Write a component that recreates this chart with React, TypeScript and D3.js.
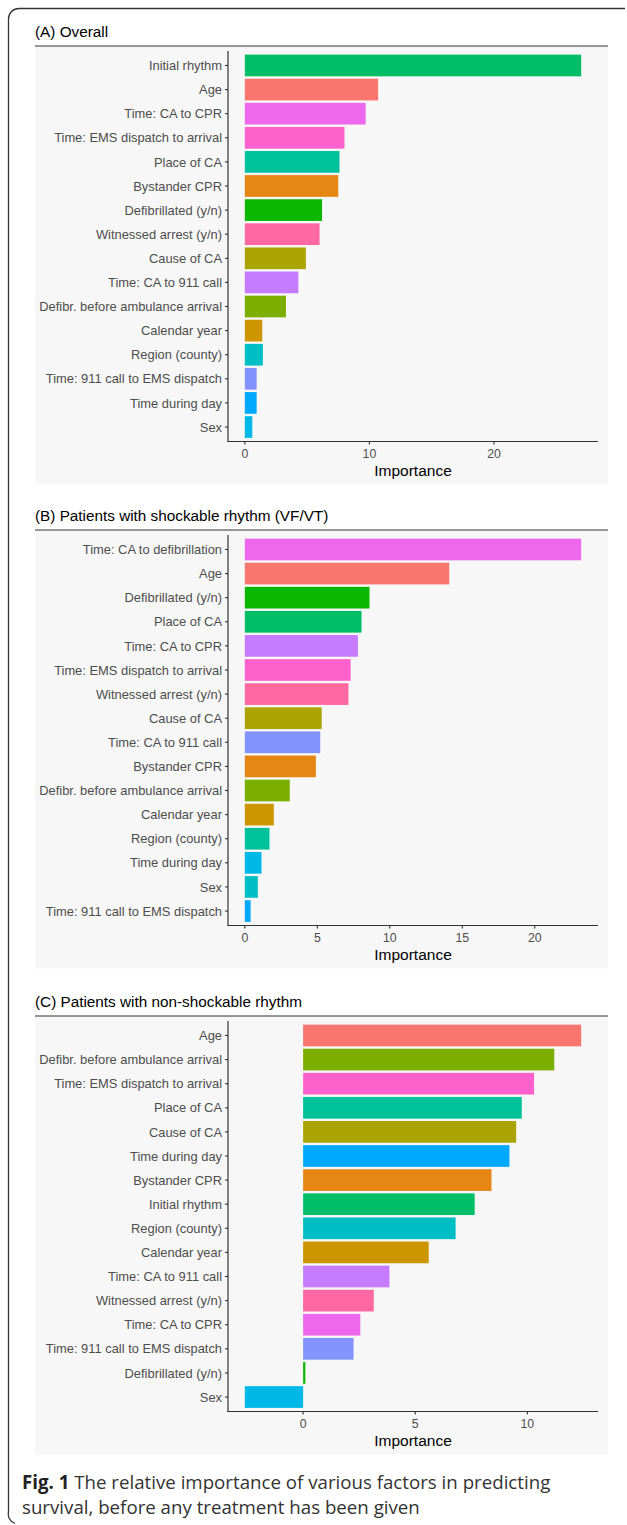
import React from "react";
import * as d3 from "d3";

// ggplot2 default hue palette for 16 levels
const PALETTE16 = [
  "#F8766D", "#E68613", "#CD9600", "#ABA300", "#7CAE00", "#0CB702", "#00BE67", "#00C19A",
  "#00BFC4", "#00B8E7", "#00A9FF", "#8494FF", "#C77CFF", "#ED68ED", "#FF61CC", "#FF68A1",
];

// Panel A: Overall
const aTitle = "(A) Overall";
const aLabels = [
  "Initial rhythm", "Age", "Time: CA to CPR", "Time: EMS dispatch to arrival", "Place of CA",
  "Bystander CPR", "Defibrillated (y/n)", "Witnessed arrest (y/n)", "Cause of CA",
  "Time: CA to 911 call", "Defibr. before ambulance arrival", "Calendar year", "Region (county)",
  "Time: 911 call to EMS dispatch", "Time during day", "Sex",
];
const aValues = [27.0, 10.7, 9.7, 8.0, 7.6, 7.5, 6.2, 6.0, 4.9, 4.3, 3.3, 1.4, 1.45, 0.95, 0.95, 0.6];
const aTicks = [0, 10, 20];

// Panel B: shockable rhythm
const bTitle = "(B) Patients with shockable rhythm (VF/VT)";
const bLabels = [
  "Time: CA to defibrillation", "Age", "Defibrillated (y/n)", "Place of CA", "Time: CA to CPR",
  "Time: EMS dispatch to arrival", "Witnessed arrest (y/n)", "Cause of CA", "Time: CA to 911 call",
  "Bystander CPR", "Defibr. before ambulance arrival", "Calendar year", "Region (county)",
  "Time during day", "Sex", "Time: 911 call to EMS dispatch",
];
const bValues = [23.2, 14.1, 8.6, 8.05, 7.8, 7.3, 7.15, 5.3, 5.2, 4.9, 3.1, 2.0, 1.7, 1.15, 0.9, 0.4];
const bTicks = [0, 5, 10, 15, 20];

// Panel C: non-shockable rhythm
const cTitle = "(C) Patients with non-shockable rhythm";
const cLabels = [
  "Age", "Defibr. before ambulance arrival", "Time: EMS dispatch to arrival", "Place of CA",
  "Cause of CA", "Time during day", "Bystander CPR", "Initial rhythm", "Region (county)",
  "Calendar year", "Time: CA to 911 call", "Witnessed arrest (y/n)", "Time: CA to CPR",
  "Time: 911 call to EMS dispatch", "Defibrillated (y/n)", "Sex",
];
const cValues = [12.4, 11.2, 10.3, 9.75, 9.5, 9.2, 8.4, 7.65, 6.8, 5.6, 3.85, 3.15, 2.55, 2.25, 0.1, -2.6];
const cTicks = [0, 5, 10];

const captionBold = "Fig. 1";
const captionLine1 = " The relative importance of various factors in predicting";
const captionLine2 = "survival, before any treatment has been given";

const FONT = "'Liberation Sans', Arial, Helvetica, sans-serif";

type PanelProps = {
  title: string;
  labels: string[];
  values: number[];
  ticks: number[];
  ruleY: number;
};

function Panel({ title, labels, values, ticks, ruleY }: PanelProps) {
  const left = 35;
  const right = 608;
  const axisX0 = 228;
  const axisX1 = 598;
  const plotTop = ruleY + 5;
  const plotBottom = ruleY + 395.5;

  const lo = Math.min(0, d3.min(values) as number);
  const hi = Math.max(0, d3.max(values) as number);
  const pad = (hi - lo) * 0.05;
  const x = d3.scaleLinear().domain([lo - pad, hi + pad]).range([axisX0, axisX1]);
  const y = d3
    .scaleBand<string>()
    .domain(labels)
    .range([plotTop, plotBottom])
    .paddingInner(0.1)
    .paddingOuter(0.15);
  const color = d3.scaleOrdinal<string, string>([...labels].sort(d3.ascending), PALETTE16);

  return (
    <g>
      <text x={left} y={ruleY - 9} fontFamily={FONT} fontSize={15.3} fill="#000">
        {title}
      </text>
      <rect x={left} y={ruleY} width={right - left} height={438.5} fill="#F7F7F7" />
      <line x1={left} x2={right} y1={ruleY} y2={ruleY} stroke="#333" strokeWidth={1.2} />
      {labels.map((l, i) => {
        const v = values[i];
        const x0 = x(Math.min(0, v));
        const x1 = x(Math.max(0, v));
        return (
          <rect
            key={l}
            x={x0}
            y={y(l) as number}
            width={Math.max(x1 - x0, 0.5)}
            height={y.bandwidth()}
            fill={color(l)}
          />
        );
      })}
      {labels.map((l) => {
        const cy = (y(l) as number) + y.bandwidth() / 2;
        return (
          <g key={"t" + l}>
            <line x1={axisX0 - 3} x2={axisX0} y1={cy} y2={cy} stroke="#333" strokeWidth={1.1} />
            <text
              x={axisX0 - 6}
              y={cy}
              dy="0.36em"
              textAnchor="end"
              fontFamily={FONT}
              fontSize={12.9}
              fill="#4D4D4D"
            >
              {l}
            </text>
          </g>
        );
      })}
      {ticks.map((t) => (
        <g key={"x" + t}>
          <line x1={x(t)} x2={x(t)} y1={plotBottom} y2={plotBottom + 3} stroke="#333" strokeWidth={1.1} />
          <text
            x={x(t)}
            y={ruleY + 412}
            textAnchor="middle"
            fontFamily={FONT}
            fontSize={12.3}
            fill="#4D4D4D"
          >
            {t}
          </text>
        </g>
      ))}
      <line x1={axisX0} x2={axisX0} y1={plotTop} y2={plotBottom + 0.5} stroke="#333" strokeWidth={1.2} />
      <line x1={axisX0 - 0.5} x2={axisX1} y1={plotBottom} y2={plotBottom} stroke="#333" strokeWidth={1.2} />
      <text
        x={(axisX0 + axisX1) / 2}
        y={ruleY + 430}
        textAnchor="middle"
        fontFamily={FONT}
        fontSize={15.5}
        fill="#000"
      >
        Importance
      </text>
    </g>
  );
}

export default function App() {
  return (
    <div style={{ position: "absolute", left: 0, top: 0 }}>
      <svg width={627} height={1525} viewBox="0 0 627 1525" style={{ display: "block", background: "#fff" }}>
        <path
          d="M625,8.5 H19 A10.5,10.5 0 0 0 8.5,19 V1512 A10,10 0 0 0 15,1523.5"
          fill="none"
          stroke="#333"
          strokeWidth={1.3}
        />
        <Panel title={aTitle} labels={aLabels} values={aValues} ticks={aTicks} ruleY={46} />
        <Panel title={bTitle} labels={bLabels} values={bValues} ticks={bTicks} ruleY={530} />
        <Panel title={cTitle} labels={cLabels} values={cValues} ticks={cTicks} ruleY={1016} />
        <text x={22} y={1489} fontFamily="'Open Sans', 'Noto Sans', sans-serif" fontSize={18.7} fill="#333">
          <tspan fontWeight="bold" fill="#222">{captionBold}</tspan>
          <tspan>{captionLine1}</tspan>
        </text>
        <text x={22} y={1514} fontFamily="'Open Sans', 'Noto Sans', sans-serif" fontSize={18.7} fill="#333">
          {captionLine2}
        </text>
      </svg>
    </div>
  );
}
